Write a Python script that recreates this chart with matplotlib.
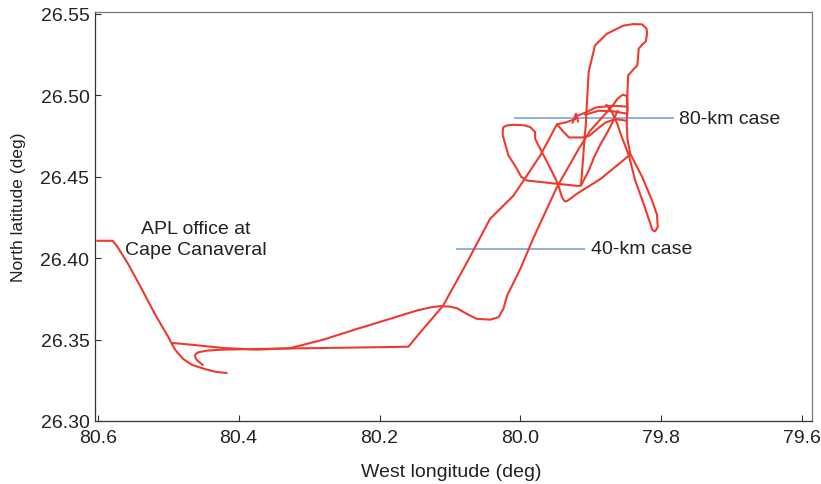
import matplotlib
matplotlib.use("Agg")
import matplotlib.pyplot as plt

plt.rcParams['font.family'] = ['Liberation Sans', 'DejaVu Sans']

# ---- data (west longitude, north latitude) ----
# APL office descent to the southern end point
lon_a = [80.601, 80.579, 80.573, 80.557, 80.540, 80.519, 80.500, 80.491, 80.479, 80.466, 80.448, 80.432, 80.417]
lat_a = [26.4106, 26.4106, 26.4075, 26.3964, 26.3829, 26.3657, 26.3516, 26.3442, 26.3381, 26.3344, 26.3319, 26.3301, 26.3295]

# outbound leg: upper westward road, hump, climb north-east, narrow loop
lon_b = [80.495, 80.469, 80.422, 80.374, 80.327, 80.280, 80.232, 80.185, 80.147, 80.128, 80.114, 80.100, 80.090, 80.076,
         80.062, 80.043, 80.031, 80.024, 80.019, 80.000, 79.982, 79.948, 79.917, 79.901, 79.884, 79.869, 79.862,
         79.855, 79.849, 79.848, 79.849, 79.848, 79.844, 79.827, 79.813, 79.806, 79.805, 79.808, 79.810, 79.813,
         79.815, 79.825, 79.837, 79.846, 79.856, 79.863, 79.871, 79.878]
lat_b = [26.3479, 26.3469, 26.3448, 26.3438, 26.3447, 26.3499, 26.3565, 26.3627, 26.3678, 26.3697, 26.3705, 26.3702,
         26.3692, 26.3657, 26.3627, 26.3622, 26.3637, 26.3690, 26.3768, 26.3934, 26.4118, 26.4436, 26.4671, 26.4781,
         26.4863, 26.4935, 26.4978, 26.5002, 26.4996, 26.4916, 26.4824, 26.4732, 26.4640, 26.4497, 26.4353, 26.4265,
         26.4192, 26.4168, 26.4164, 26.4176, 26.4204, 26.4333, 26.4476, 26.4630, 26.4743, 26.4830, 26.4904, 26.4941]

# tall northern loop and the western loop
lon_t = [79.848, 79.848, 79.847, 79.838, 79.834, 79.832, 79.826, 79.822, 79.820, 79.821, 79.827, 79.840, 79.854,
         79.877, 79.894, 79.903, 79.906, 79.907, 79.909, 79.911, 79.914, 79.920, 79.948, 79.991, 79.999, 80.005,
         80.017, 80.025, 80.025, 80.024, 80.018, 80.010, 79.995, 79.986, 79.979, 79.979, 79.972, 79.962, 79.950,
         79.946, 79.941, 79.938, 79.936, 79.933, 79.929, 79.920, 79.910, 79.886, 79.846]
lat_t = [26.4904, 26.5021, 26.5121, 26.5165, 26.5182, 26.5285, 26.5315, 26.5328, 26.5380, 26.5408, 26.5434, 26.5436,
         26.5426, 26.5377, 26.5305, 26.5144, 26.4916, 26.4824, 26.4732, 26.4609, 26.4445, 26.4443, 26.4456, 26.4476,
         26.4499, 26.4548, 26.4630, 26.4752, 26.4785, 26.4804, 26.4815, 26.4818, 26.4815, 26.4804, 26.4773, 26.4732,
         26.4671, 26.4589, 26.4486, 26.4445, 26.4374, 26.4353, 26.4347, 26.4352, 26.4364, 26.4394, 26.4421, 26.4486,
         26.4628]

# return leg: south-west diagonal, lower road, final hook
lon_d = [79.848, 79.869, 79.893, 79.907, 79.919, 79.922, 79.936, 79.948, 79.972, 80.010, 80.043, 80.077, 80.110,
         80.138, 80.159, 80.199, 80.280, 80.374, 80.422, 80.445, 80.457, 80.461, 80.462, 80.461, 80.459, 80.451]
lat_d = [26.4929, 26.4935, 26.4924, 26.4894, 26.4873, 26.4853, 26.4832, 26.4821, 26.4628, 26.4382, 26.4241, 26.3964,
         26.3706, 26.3565, 26.3456, 26.3453, 26.3448, 26.3442, 26.3438, 26.3432, 26.3422, 26.3412, 26.3399, 26.3384,
         26.3372, 26.3344]

# small loops in the knot near 80-km case
lon_e = [79.948, 79.938, 79.931, 79.912, 79.902, 79.888, 79.879, 79.865, 79.850]
lat_e = [26.4821, 26.4771, 26.4740, 26.4740, 26.4751, 26.4802, 26.4832, 26.4853, 26.4843]

lon_f = [79.908, 79.889, 79.869, 79.848]
lat_f = [26.4880, 26.4904, 26.4901, 26.4886]

lon_h = [79.914, 79.903, 79.895, 79.886, 79.876, 79.868, 79.862]
lat_h = [26.4445, 26.4536, 26.4622, 26.4701, 26.4775, 26.4843, 26.4904]

lon_g = [79.926, 79.921, 79.918]
lat_g = [26.4830, 26.4886, 26.4837]

# range-case markers
case_labels = ["80-km case", "40-km case"]
case_lat = [26.4859, 26.4057]
case_lon_start = [80.007, 80.090]
case_lon_end = [79.784, 79.909]

office_label = "APL office at\nCape Canaveral"
office_pos = (80.461, 26.4118)

xticks = [80.6, 80.4, 80.2, 80.0, 79.8, 79.6]
yticks = [26.30, 26.35, 26.40, 26.45, 26.50, 26.55]

# ---- figure ----
fig = plt.figure(figsize=(8.21, 4.85), dpi=100)
ax = fig.add_axes([0.1157, 0.1299, 0.8733, 0.8433])

red = '#EE3A2C'
blue = '#8FB1DE'
for lo, la in [(lon_a, lat_a), (lon_b, lat_b), (lon_t, lat_t), (lon_d, lat_d),
               (lon_e, lat_e), (lon_f, lat_f), (lon_h, lat_h), (lon_g, lat_g)]:
    ax.plot(lo, la, color=red, lw=1.5, solid_capstyle='round', solid_joinstyle='round', zorder=3)

for lab, la, l0, l1 in zip(case_labels, case_lat, case_lon_start, case_lon_end):
    ax.plot([l0, l1], [la, la], color=blue, lw=1.4, zorder=2)
    ax.annotate(lab, xy=(l1, la), xytext=(5, 0), textcoords='offset points',
                ha='left', va='center', fontsize=14, color='#222222')

ax.text(office_pos[0], office_pos[1], office_label, ha='center', va='center',
        fontsize=14, color='#222222', linespacing=1.3)

ax.set_xlim(80.604, 79.586)
ax.set_ylim(26.30, 26.551)
ax.set_xticks(xticks)
ax.set_xticklabels([f"{v:.1f}" for v in xticks])
ax.set_yticks(yticks)
ax.set_yticklabels([f"{v:.2f}" for v in yticks])
ax.tick_params(direction='in', length=4.5, width=0.8, colors='#333333', labelsize=14,
               labelcolor='#222222', pad=4)
ax.tick_params(axis='x', pad=6)

for s in ['left', 'bottom']:
    ax.spines[s].set_color('#333333')
    ax.spines[s].set_linewidth(0.9)
for s in ['top', 'right']:
    ax.spines[s].set_color('#777777')
    ax.spines[s].set_linewidth(0.9)

fig.text(451 / 821, 1 - 473 / 485, "West longitude (deg)", ha='center', va='center',
         fontsize=14, color='#222222')
fig.text(19 / 821, 1 - 207 / 485, "North latitude (deg)", ha='center', va='center',
         rotation=90, fontsize=12.6, color='#222222')

fig.savefig("out.png", dpi=100)
